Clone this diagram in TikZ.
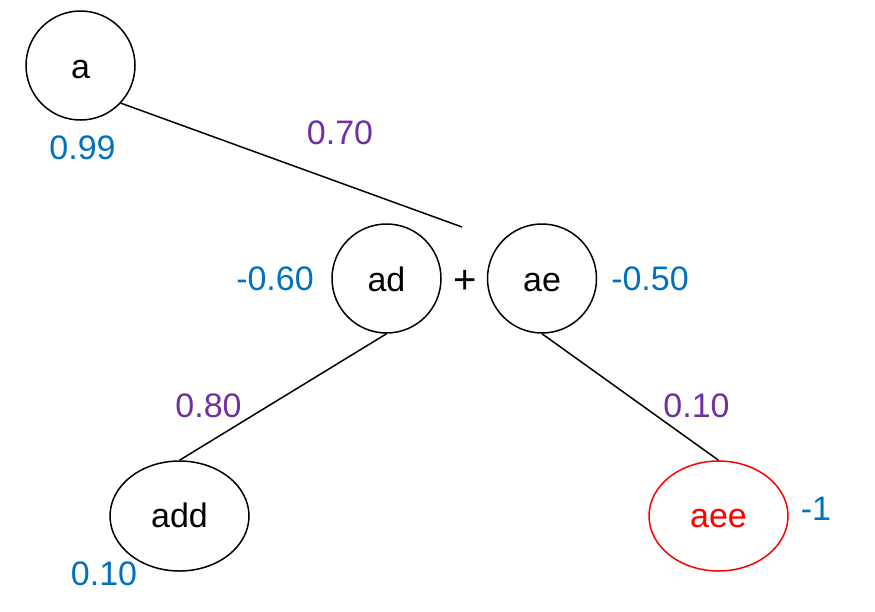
\documentclass[tikz,border=0pt]{standalone}
\usepackage{fontspec}
\setmainfont{Liberation Sans}
\usetikzlibrary{shapes.geometric}
\definecolor{lblue}{HTML}{0070C0}
\definecolor{lpurple}{HTML}{7030A0}
\definecolor{lred}{HTML}{FF0000}
\begin{document}
\begin{tikzpicture}[x=1pt,y=-1pt,
  every node/.style={font=\fontsize{34}{40}\selectfont},
  circ/.style={draw, circle, line width=1.5pt, minimum size=109pt, inner sep=0pt, text height=25pt, text depth=0pt},
  ell/.style={draw, ellipse, line width=1.5pt, minimum width=139pt, minimum height=110pt, inner sep=0pt, text height=23pt, text depth=0pt},
  edge/.style={line width=1.5pt},
  wlab/.style={text=lpurple, inner sep=0pt},
  vlab/.style={text=lblue, inner sep=0pt}]
\useasboundingbox (0,0) rectangle (875,611);
\node[circ] (a) at (80.5,65.5) {a};
\node[circ] (ad) at (386.5,278.5) {ad};
\node[circ] (ae) at (542,278.5) {ae};
\node[inner sep=0pt, font=\fontsize{40}{44}\selectfont] (plus) at (465,281.5) {+};
\node[ell] (add) at (179.5,516) {add};
\node[ell, draw=lred, text=lred] (aee) at (718.5,516) {aee};
\coordinate (j) at (462,227);
\draw[edge] (a.-43.5) -- (j);
\draw[edge] (ad.south) -- (add.north);
\draw[edge] (ae.south) -- (aee.north);
\node[vlab] (l1) at (82.5,148) {0.99};
\node[wlab] (l2) at (340,133) {0.70};
\node[vlab] (l3) at (275,279) {-0.60};
\node[vlab] (l4) at (650,279) {-0.50};
\node[wlab] (l5) at (208.5,405.5) {0.80};
\node[wlab] (l6) at (696.5,405.5) {0.10};
\node[vlab] (l7) at (104,573.5) {0.10};
\node[vlab] (l8) at (816,509) {-1};
\end{tikzpicture}
\end{document}
